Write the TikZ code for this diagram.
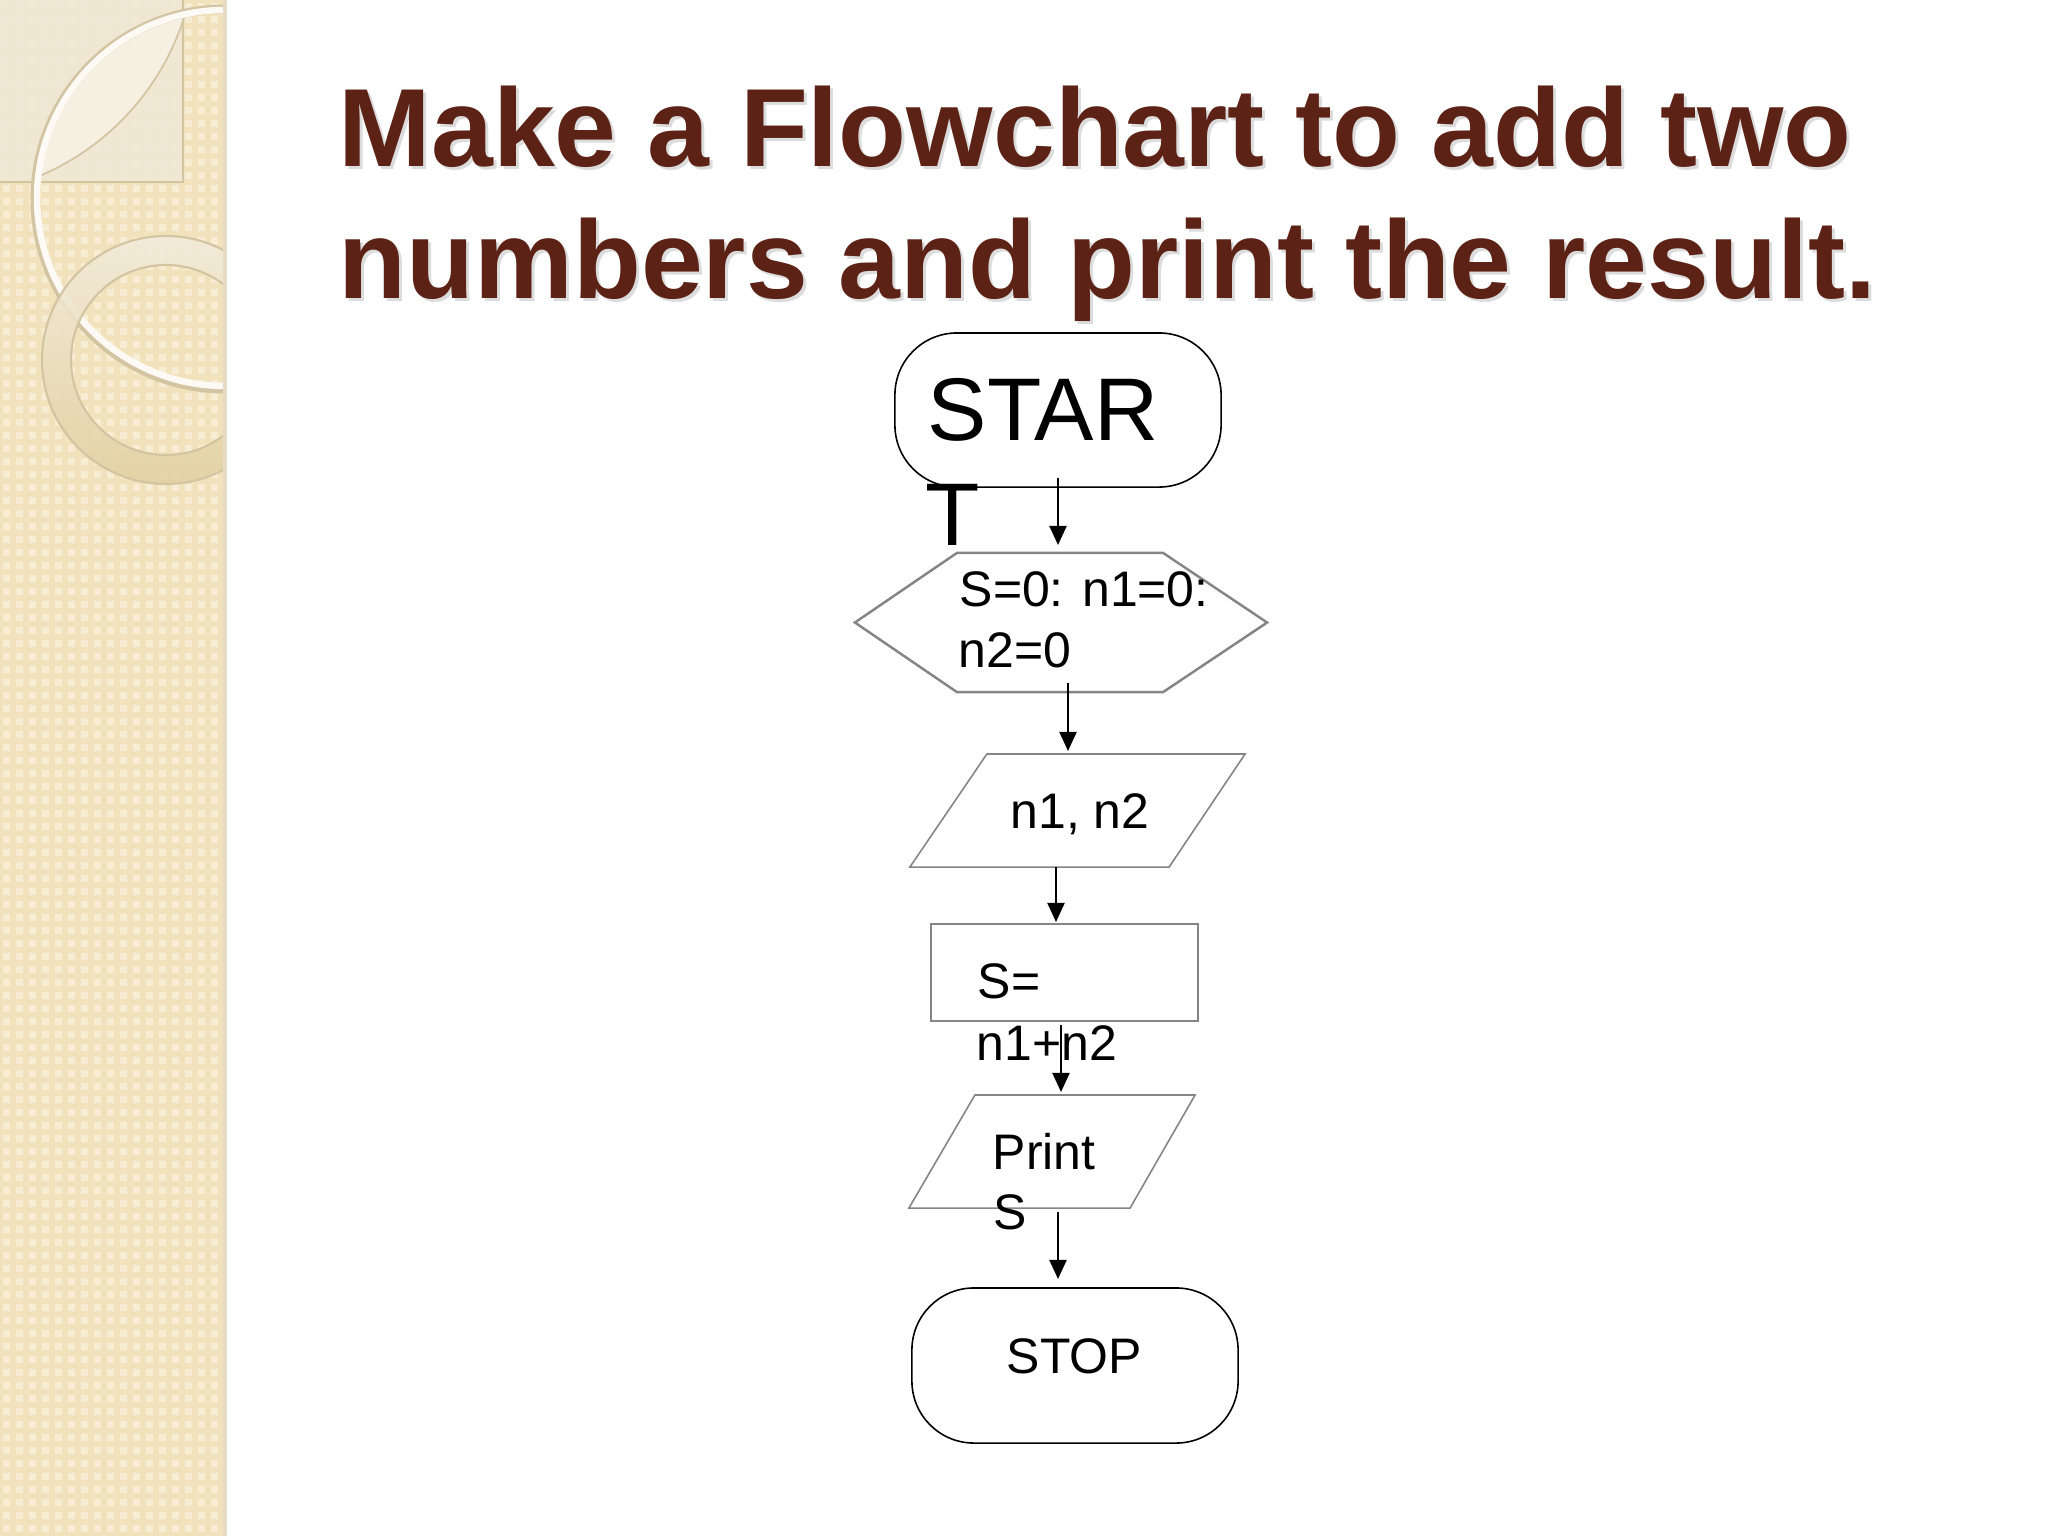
\documentclass[tikz,border=0pt]{standalone}
\usepackage{fontspec}
\setmainfont{Liberation Sans}
\usetikzlibrary{arrows.meta,calc}
\definecolor{titlebrown}{HTML}{5C2216}
\definecolor{bandbase}{HTML}{F2E2BC}
\definecolor{bandsq}{HTML}{F7EDD5}
\definecolor{rectfill}{HTML}{F0E8D6}
\definecolor{lensfill}{HTML}{F6F0E2}
\definecolor{edgetan}{HTML}{D3C4A2}
\definecolor{ringlight}{HTML}{F2EBDA}
\definecolor{ringdark}{HTML}{E3D1A3}
\definecolor{shapegray}{HTML}{858585}
\tikzset{
  term/.style={draw=black, line width=0.45pt, rounded corners=0.62cm, minimum width=3.26cm, inner sep=0pt, outer sep=0pt},
  ghost/.style={inner sep=0pt, outer sep=0pt},
  gline/.style={draw=shapegray, line width=0.45pt},
  hexline/.style={draw=shapegray, line width=0.7pt},
  arr/.style={-{Triangle[width=0.17cm,length=0.19cm]}, line width=0.6pt, black},
  lbl/.style={anchor=base west, inner sep=0pt, font=\fontsize{14.2pt}{17.4pt}\selectfont},
  biglbl/.style={anchor=base west, inner sep=0pt, font=\fontsize{25.3pt}{30pt}\selectfont},
  titlelbl/.style={anchor=base west, inner sep=0pt, font=\fontsize{31.6pt}{37.6pt}\selectfont\bfseries}
}
\begin{document}
\begin{tikzpicture}[x=0.01cm,y=-0.01cm]
\useasboundingbox (0,0) rectangle (2048,1536);
\fill[white] (0,0) rectangle (2048,1536);
% ---------- decorative band ----------
\begin{scope}
\clip (0,0) rectangle (226,1536);
\fill[bandbase] (0,0) rectangle (226,1536);
\foreach \i in {0,...,17} {
  \draw[bandsq, line width=0.07cm, dash pattern=on 0.07cm off 0.06cm] (\i*13+6.5,3) -- (\i*13+6.5,1540);
}
% light rectangle top-left
\fill[rectfill, opacity=0.92] (0,0) rectangle (183,182);
\draw[edgetan, line width=0.5pt] (183,0) -- (183,182) -- (0,182);
% lens
\begin{scope}
\clip (225,198) circle (188);
\fill[lensfill] (-60,-60) circle (256);
\draw[edgetan, line width=0.5pt] (-60,-60) circle (256);
\end{scope}
% big arc
\draw[edgetan, line width=0.09cm] (225,199) circle (190);
\draw[white!75!bandsq, line width=0.065cm] (225,198) circle (188);
% ring
\shade[even odd rule, top color=ringlight, bottom color=ringdark, opacity=0.9] (166,360) circle (124) (166,360) circle (95);
\draw[edgetan, line width=0.6pt] (166,360) circle (124);
\draw[edgetan, line width=0.6pt] (166,360) circle (95);
\end{scope}
\fill[edgetan!60!white] (223,0) rectangle (227,1536);
% ---------- title ----------
\node[titlelbl, text=black!30, opacity=0.45] (title1s) at (341,169) {Make a Flowchart to add two};
\node[titlelbl, text=black!30, opacity=0.45] (title2s) at (341,301) {numbers and print the result.};
\node[titlelbl, text=titlebrown] (title1) at (338,166) {Make a Flowchart to add two};
\node[titlelbl, text=titlebrown] (title2) at (338,298) {numbers and print the result.};
% ---------- flowchart shapes ----------
\node[term, minimum height=1.54cm] (start) at (1058,410) {};
\node[ghost, minimum width=4.12cm, minimum height=1.39cm] (hex) at (1061,622.5) {};
\draw[hexline] (hex.west) -- ($(hex.north west)+(102,0)$) -- ($(hex.north east)+(-104,0)$) -- (hex.east)
  -- ($(hex.south east)+(-104,0)$) -- ($(hex.south west)+(102,0)$) -- cycle;
\node[ghost, minimum width=3.35cm, minimum height=1.13cm] (par1) at (1077.5,810.5) {};
\draw[gline] ($(par1.north west)+(77,0)$) -- (par1.north east) -- ($(par1.south east)+(-76,0)$) -- (par1.south west) -- cycle;
\node[ghost, gline, minimum width=2.67cm, minimum height=0.97cm] (proc) at (1064.5,972.5) {};
\node[ghost, minimum width=2.86cm, minimum height=1.13cm] (par2) at (1052,1151.5) {};
\draw[gline] ($(par2.north west)+(66,0)$) -- (par2.north east) -- ($(par2.south east)+(-65,0)$) -- (par2.south west) -- cycle;
\node[term, minimum height=1.55cm] (stop) at (1075,1365.5) {};
% ---------- texts ----------
\node[biglbl] (startA) at (927,440) {STAR};
\node[biglbl] (startB) at (925,545) {T};
\node[lbl] (hexA) at (959,606) {S=0: n1=0:};
\node[lbl] (hexB) at (958,667) {n2=0};
\node[lbl] (par1A) at (1010,828) {n1, n2};
\node[lbl] (procA) at (977,998) {S=};
\node[lbl] (procB) at (976,1060) {n1+n2};
\node[lbl] (par2A) at (992,1169) {Print};
\node[lbl] (par2B) at (993,1229) {S};
\node[lbl] (stopA) at (1006,1373) {STOP};
% ---------- connectors ----------
\draw[arr] ($(start.south)+(0,-9)$) -- ($(hex.north)+(-3,-8)$);
\draw[arr] ($(hex.south)+(7,-9)$) -- ($(par1.north)+(-9.5,-3)$);
\draw[arr] ($(par1.south)+(-21.5,0)$) -- ($(proc.north)+(-8.5,-2)$);
\draw[arr] ($(proc.south)+(-3.5,4)$) -- ($(par2.north)+(9,-3)$);
\draw[arr] ($(par2.south)+(6,4)$) -- ($(stop.north)+(-17,-9)$);
\end{tikzpicture}
\end{document}
